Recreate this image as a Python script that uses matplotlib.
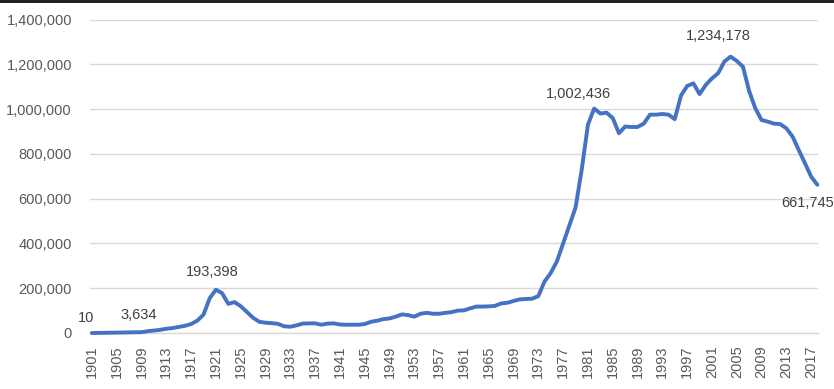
import matplotlib
matplotlib.use("Agg")
import matplotlib.pyplot as plt
from matplotlib.ticker import FuncFormatter, FixedLocator
from matplotlib.patches import Rectangle

years = list(range(1901, 2019))
values = [
    10, 300, 700, 1200, 1700, 2200, 2700, 3200, 3634, 8000,          # 1901-1910
    11000, 14000, 19000, 22000, 27000, 32000, 40000, 55000, 82000, 155000,  # 1911-1920
    193398, 178000, 130000, 138000, 120000, 94000, 68000, 50000, 46000, 44000,  # 1921-1930
    41000, 30000, 28000, 34000, 42000, 43000, 43000, 37000, 42000, 43000,  # 1931-1940
    38000, 37000, 37000, 37000, 40000, 50000, 55000, 62000, 65000, 73000,  # 1941-1950
    83000, 80000, 73000, 86000, 90000, 86000, 86000, 90000, 93000, 100000,  # 1951-1960
    101000, 110000, 118000, 118000, 119000, 121000, 132000, 135000, 143000, 150000,  # 1961-1970
    152000, 153000, 165000, 230000, 268000, 320000, 400000, 480000, 560000, 730000,  # 1971-1980
    930000, 1002436, 980000, 984000, 960000, 892000, 922000, 920000, 920000, 935000,  # 1981-1990
    975000, 975000, 978000, 975000, 955000, 1060000, 1103000, 1115000, 1067000, 1108000,  # 1991-2000
    1137000, 1160000, 1212000, 1234178, 1215000, 1189000, 1080000, 1003000, 951000, 944000,  # 2001-2010
    935000, 933000, 914000, 877000, 817000, 758000, 698000, 661745,  # 2011-2018
]

tick_years = list(range(1901, 2019, 4))
y_ticks = list(range(0, 1400001, 200000))

# labelled points: (year, value, offset in pixels)
label_years = [1901, 1909, 1921, 1982, 2004, 2018]
label_offsets_px = [(-6, 15), (-3, 17), (-4, 18), (-16, 15), (-12, 21), (-10, -18)]

DPI = 100
fig = plt.figure(figsize=(834 / DPI, 389 / DPI), dpi=DPI)
fig.patch.set_facecolor("white")
ax = fig.add_axes([90 / 834, 1 - 333 / 389, (818 - 90) / 834, (333 - 19.5) / 389])

font = "Liberation Sans"
tick_color = "#595959"
label_color = "#404040"

ax.plot(years, values, color="#4472C4", lw=2.8, solid_joinstyle="round",
        solid_capstyle="round", zorder=3, clip_on=False)

ax.set_xlim(1900.7, 2018.1)
ax.set_ylim(0, 1400000)

ax.yaxis.set_major_locator(FixedLocator(y_ticks))
ax.yaxis.set_major_formatter(FuncFormatter(lambda v, p: f"{int(v):,}"))
ax.xaxis.set_major_locator(FixedLocator(tick_years))
ax.set_xticklabels([str(y) for y in tick_years], rotation=90)

ax.grid(axis="y", color="#D9D9D9", lw=1.0)
ax.set_axisbelow(True)
for s in ["top", "right", "left"]:
    ax.spines[s].set_visible(False)
ax.spines["bottom"].set_color("#D9D9D9")
ax.spines["bottom"].set_linewidth(1.0)

ax.tick_params(axis="both", length=0, colors=tick_color, labelsize=10.5)
ax.tick_params(axis="y", pad=13)
ax.tick_params(axis="x", pad=9)
for lab in ax.get_xticklabels() + ax.get_yticklabels():
    lab.set_fontfamily(font)
    lab.set_color(tick_color)

pt_per_px = 72 / DPI
for yr, (dx, dy) in zip(label_years, label_offsets_px):
    v = values[years.index(yr)]
    ax.annotate(f"{v:,}", xy=(yr, v), xytext=(dx * pt_per_px, dy * pt_per_px),
                textcoords="offset points", ha="center", va="center",
                fontsize=10.5, family=font, color=label_color, zorder=4,
                annotation_clip=False)

# dark strip at the top of the screenshot
fig.patches.append(Rectangle((0, 1 - 3 / 389), 1, 3 / 389, transform=fig.transFigure,
                             facecolor="#222222", edgecolor="none", zorder=10))

fig.savefig("out.png", dpi=DPI)
